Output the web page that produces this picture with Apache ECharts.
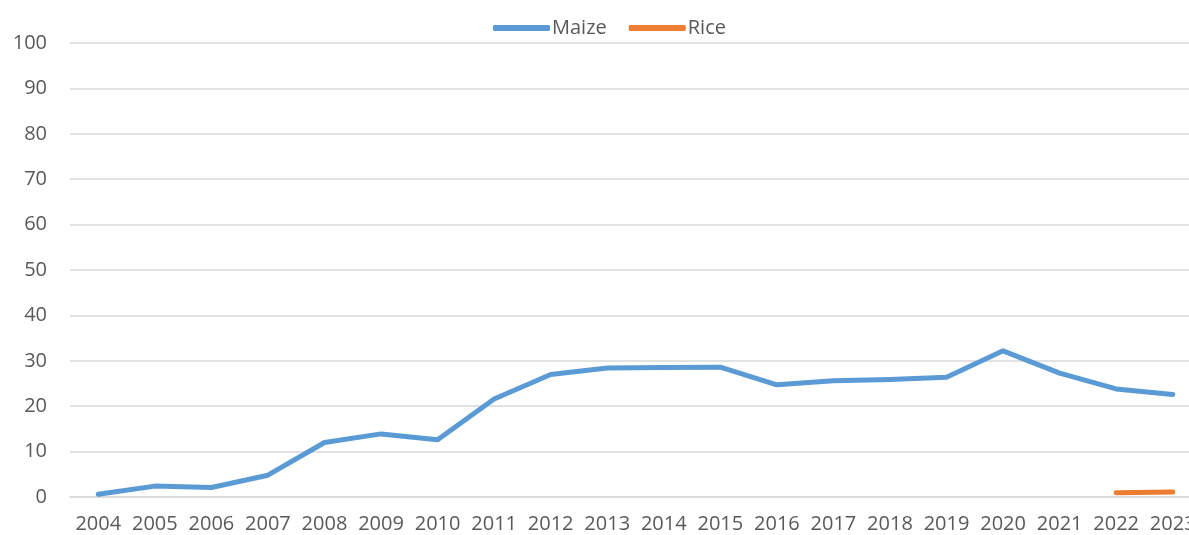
<!DOCTYPE html>
<html>
<head>
<meta charset="utf-8">
<script src="https://cdn.jsdelivr.net/npm/echarts@6/dist/echarts.min.js"></script>
<style>
	html, body { margin: 0; padding: 0; background: #fff; }
	#plot { width: 1189px; height: 535px; }
</style>
</head>
<body>
<div id="plot"></div>
<script>
const years = ['2004', '2005', '2006', '2007', '2008', '2009', '2010', '2011', '2012', '2013',
	'2014', '2015', '2016', '2017', '2018', '2019', '2020', '2021', '2022', '2023'];
const maize = [0.6, 2.4, 2.1, 4.8, 12.0, 13.9, 12.6, 21.6, 27.0, 28.4,
	28.5, 28.6, 24.7, 25.6, 25.9, 26.4, 32.2, 27.3, 23.8, 22.6];
const rice = [null, null, null, null, null, null, null, null, null, null,
	null, null, null, null, null, null, null, null, 0.95, 1.1];

function plot() {
	const textColor = '#595959';
	const font = 'Open Sans';
	const option = {
		animation: false,
		textStyle: { fontFamily: font },
		legend: {
			top: 13,
			left: 488,
			itemWidth: 57,
			itemHeight: 6,
			itemGap: 22,
			icon: 'roundRect',
			textStyle: { color: textColor, fontSize: 20, fontFamily: font, padding: [0, 0, 0, -3] },
			data: ['Maize', 'Rice']
		},
		grid: {
			left: 70,
			top: 43,
			bottom: 38,
			width: 1131,
			containLabel: false,
			outerBoundsMode: 'none'
		},
		xAxis: {
			type: 'category',
			data: years,
			boundaryGap: true,
			axisLine: { show: true, lineStyle: { color: '#D9D9D9', width: 1.5 } },
			axisTick: { show: false },
			axisLabel: { color: textColor, fontSize: 20, fontFamily: font, margin: 17, interval: 0 }
		},
		yAxis: {
			type: 'value',
			min: 0,
			max: 100,
			interval: 10,
			axisLine: { show: false },
			axisTick: { show: false },
			axisLabel: { color: textColor, fontSize: 20, fontFamily: font, margin: 23 },
			splitLine: { lineStyle: { color: '#D9D9D9', width: 1.5 } }
		},
		series: [
			{
				name: 'Maize',
				type: 'line',
				data: maize,
				showSymbol: false,
				symbol: 'none',
				color: '#5B9BD5',
				lineStyle: { width: 5, cap: 'round', join: 'round' }
			},
			{
				name: 'Rice',
				type: 'line',
				data: rice,
				showSymbol: false,
				symbol: 'none',
				color: '#ED7D31',
				lineStyle: { width: 5, cap: 'round', join: 'round' }
			}
		]
	};
	const chart = echarts.init(document.getElementById('plot'));
	chart.setOption(option);
	window.addEventListener('resize', () => chart.resize());
}

window.addEventListener('load', plot);
</script>
</body>
</html>
